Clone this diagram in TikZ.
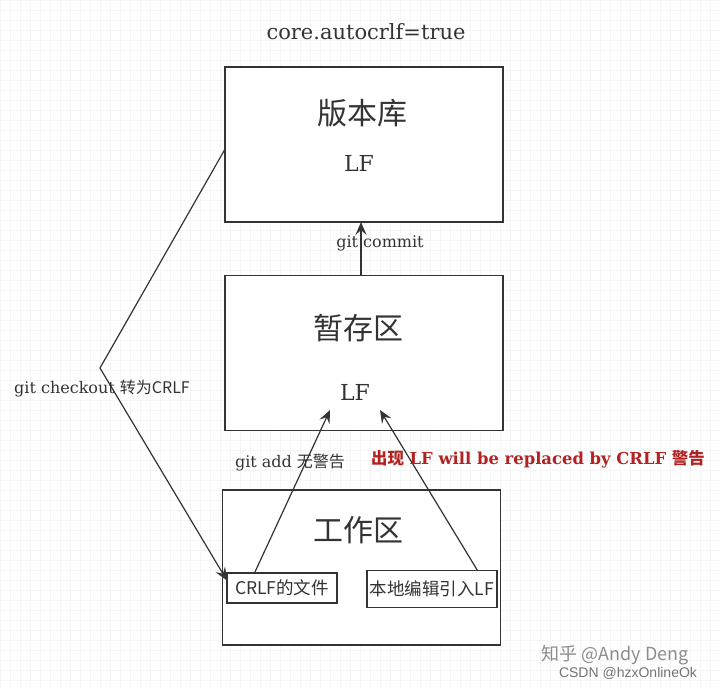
\documentclass[tikz,border=0pt]{standalone}
\usepackage{fontspec}
\setmainfont{DejaVu Serif}
\newfontfamily\cjk{Noto Sans CJK SC}
\newfontfamily\wmsans{Liberation Sans}
\usetikzlibrary{arrows.meta, calc}
\definecolor{warnred}{RGB}{178,34,34}
\definecolor{edge}{RGB}{51,51,51}

\begin{document}
\begin{tikzpicture}[x=1pt, y=-1pt,
  area/.style={draw=edge, fill=white, line width=1.4pt, minimum width=278pt, minimum height=155pt, inner sep=0pt, outer sep=0pt},
  file/.style={draw=edge, fill=white, line width=1.1pt, inner sep=0pt, outer sep=0pt, text=edge, font=\cjk\fontsize{17.5}{19}\selectfont},
  arr/.style={draw=edge, line width=1.2pt, -{Stealth[length=13pt, width=11pt, inset=5pt]}},
  lbl/.style={text=edge, font=\fontsize{16}{19}\selectfont},
  big/.style={text=edge, font=\cjk\fontsize{30}{34}\selectfont},
  lf/.style={text=edge, font=\fontsize{22}{26}\selectfont},
  wm/.style={text=black!45}]
\useasboundingbox (0,0) rectangle (720,688);
\draw [black!4, line width=0.5pt, step=10pt] (0,0) grid (720,688);

% three areas
\node[area] (repo) at (364,144.5) {};
\node[area] (stage) at (364,353) {};
\node[area] (work) at (361.5,567.5) {};
\node[big] (reponame) at (362,113) {版本库};
\node[lf] (repolf) at (359,163) {LF};
\node[big] (stagename) at (358,328) {暂存区};
\node[lf] (stagelf) at (355,392) {LF};
\node[big] (workname) at (358,530) {工作区};
\node[file, minimum width=110pt, minimum height=30pt] (crlf) at (282,588) {CRLF的文件};
\node[file, minimum width=130pt, minimum height=37pt] (local) at (432,589) {本地编辑引入LF};

% arrows
\coordinate (addtip) at (330,410);
\coordinate (lftip) at (380,410);
\coordinate (bend) at (100,368);
\draw[arr] ($(stage.north)+(-3,0)$) -- ($(repo.south)+(-3,0)$);
\draw[arr] ($(crlf.north west)!0.25!(crlf.north east)$) -- (addtip);
\draw[arr] ($(local.north west)!0.85!(local.north east)$) -- (lftip);
\draw[arr] ($(repo.north west)!0.53!(repo.south west)$) -- (bend) -- ($(crlf.north west)!0.25!(crlf.south west)$);

% labels
\node[text=edge, font=\fontsize{21}{25}\selectfont] (title) at (366,32) {core.autocrlf=true};
\node[lbl] (commitlbl) at (380,243) {git commit};
\node[lbl] (checkoutlbl) at (102,389) {git checkout {\cjk 转为CRLF}};
\node[lbl] (addlbl) at (290,463) {git add {\cjk 无警告}};
\node[lbl, text=warnred, font=\bfseries\fontsize{16.4}{19}\selectfont] (warnlbl) at (538,459) {{\cjk 出现} LF will be replaced by CRLF {\cjk 警告}};

% watermark
\node[wm, font=\cjk\fontsize{18}{20}\selectfont] (zhihu) at (615,655) {知乎 @Andy Deng};
\node[wm, text=black!55, font=\wmsans\fontsize{14}{16}\selectfont] (csdn) at (628,673) {CSDN @hzxOnlineOk};
\end{tikzpicture}
\end{document}
